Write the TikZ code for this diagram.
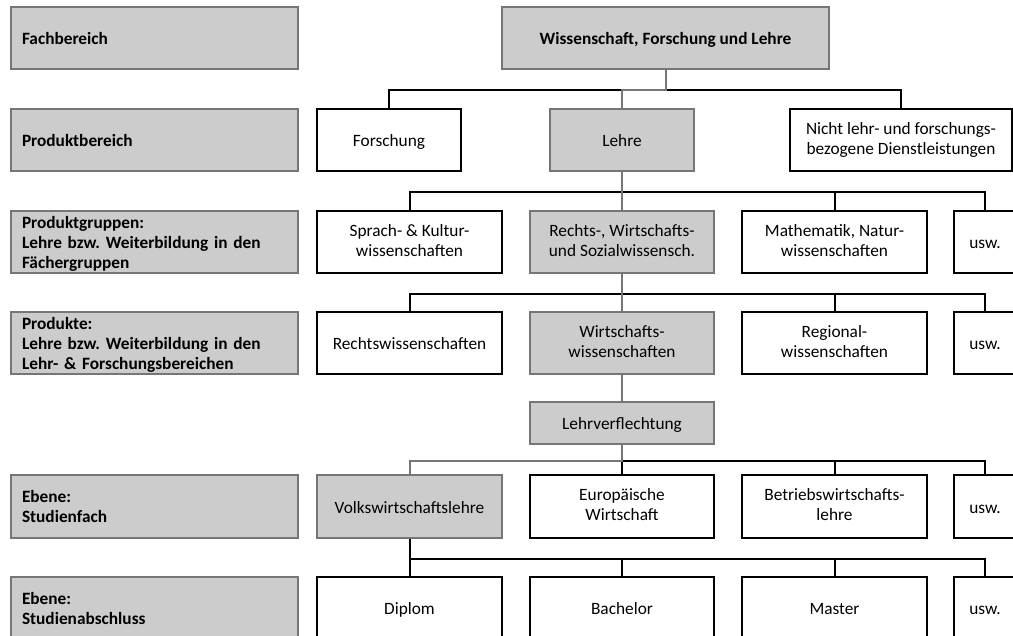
\documentclass[tikz,border=0pt]{standalone}
\usepackage{fontspec}
\setmainfont{Carlito}
\frenchspacing
\definecolor{boxgray}{RGB}{204,204,204}
\definecolor{linegray}{RGB}{118,118,118}
\newcommand\boxstrut{\rule[-3.5pt]{0pt}{20pt}}

\begin{document}
\begin{tikzpicture}[x=1pt,y=-1pt,
    levelbox/.style={draw=linegray,fill=boxgray,line width=2pt,minimum height=62pt,
        text width=265pt,inner xsep=11pt,inner ysep=0pt,align=left,
        font=\bfseries\fontsize{17.3}{20}\selectfont,
        execute at begin node=\boxstrut,execute at end node=\boxstrut},
    plainbox/.style={draw=black,fill=white,line width=2pt,minimum height=62pt,
        inner sep=0pt,align=center,font=\fontsize{17.3}{20}\selectfont,
        execute at begin node=\boxstrut,execute at end node=\boxstrut},
    pathbox/.style={plainbox,draw=linegray,fill=boxgray},
    wire/.style={draw=black,line width=2pt},
    pathwire/.style={draw=linegray,line width=2pt}]
    \useasboundingbox (0,0) rectangle (1013,636);
    \clip (0,0) rectangle (1013,636);

    \node[levelbox] (fb) at (154.5,38) {Fachbereich};
    \node[levelbox] (pb) at (154.5,140) {Produktbereich};
    \node[levelbox] (pg) at (154.5,242) {Produktgruppen:\\Lehre bzw. Weiterbildung in den\\Fächergruppen};
    \node[levelbox] (pd) at (154.5,343.5) {Produkte:\\Lehre bzw. Weiterbildung in den\\Lehr- \& Forschungsbereichen};
    \node[levelbox] (sf) at (154.5,506.5) {Ebene:\\Studienfach};
    \node[levelbox] (sa) at (154.5,608) {Ebene:\\Studienabschluss};

    \node[pathbox,minimum width=327pt,font=\bfseries\fontsize{17.3}{20}\selectfont] (wfl) at (665.5,38) {Wissenschaft, Forschung und Lehre};

    \node[plainbox,minimum width=144pt] (fo) at (389,140) {Forschung};
    \node[pathbox,minimum width=144pt] (lehre) at (622,140) {Lehre};
    \node[plainbox,minimum width=222pt] (nicht) at (901,140) {Nicht lehr- und forschungs-\\bezogene Dienstleistungen};

    \node[plainbox,minimum width=185pt] (sprach) at (409.5,242) {Sprach- \& Kultur-\\wissenschaften};
    \node[pathbox,minimum width=184pt] (rws) at (622,242) {Rechts-, Wirtschafts-\\und Sozialwissensch.};
    \node[plainbox,minimum width=185pt] (mathe) at (834.5,242) {Mathematik, Natur-\\wissenschaften};
    \node[plainbox,minimum width=62pt] (uswa) at (985,242) {usw.};

    \node[plainbox,minimum width=185pt] (rechtsw) at (409.5,343.5) {Rechtswissenschaften};
    \node[pathbox,minimum width=184pt] (wiwi) at (622,343.5) {Wirtschafts-\\wissenschaften};
    \node[plainbox,minimum width=185pt] (regio) at (834.5,343.5) {Regional-\\wissenschaften};
    \node[plainbox,minimum width=62pt] (uswb) at (985,343.5) {usw.};

    \node[pathbox,minimum width=184pt,minimum height=42pt] (lvf) at (622,423) {Lehrverflechtung};

    \node[pathbox,minimum width=185pt] (vwl) at (409.5,506.5) {Volkswirtschaftslehre};
    \node[plainbox,minimum width=184pt] (euro) at (622,506.5) {Europäische\\Wirtschaft};
    \node[plainbox,minimum width=185pt] (bwl) at (834.5,506.5) {Betriebswirtschafts-\\lehre};
    \node[plainbox,minimum width=62pt] (uswc) at (985,506.5) {usw.};

    \node[plainbox,minimum width=185pt] (diplom) at (409.5,608) {Diplom};
    \node[plainbox,minimum width=184pt] (bach) at (622,608) {Bachelor};
    \node[plainbox,minimum width=185pt] (master) at (834.5,608) {Master};
    \node[plainbox,minimum width=62pt] (uswd) at (985,608) {usw.};

    \draw[wire] (wfl.south) ++(0,20) -| (fo.north);
    \draw[wire] (wfl.south) ++(0,20) -| (nicht.north);
    \draw[pathwire] (wfl.south) -- ++(0,20) -| (lehre.north);

    \foreach \n in {sprach,mathe,uswa}
        \draw[wire] (lehre.south) ++(0,20) -| (\n.north);
    \draw[pathwire] (lehre.south) -- (rws.north);

    \foreach \n in {rechtsw,regio,uswb}
        \draw[wire] (rws.south) ++(0,20) -| (\n.north);
    \draw[pathwire] (rws.south) -- (wiwi.north);
    \draw[pathwire] (wiwi.south) -- (lvf.north);

    \foreach \n in {euro,bwl,uswc}
        \draw[wire] (lvf.south) ++(0,16) -| (\n.north);
    \draw[pathwire] (lvf.south) -- ++(0,16) -| (vwl.north);

    \foreach \n in {diplom,bach,master,uswd}
        \draw[wire] (vwl.south) -- ++(0,20) -| (\n.north);
\end{tikzpicture}
\end{document}
